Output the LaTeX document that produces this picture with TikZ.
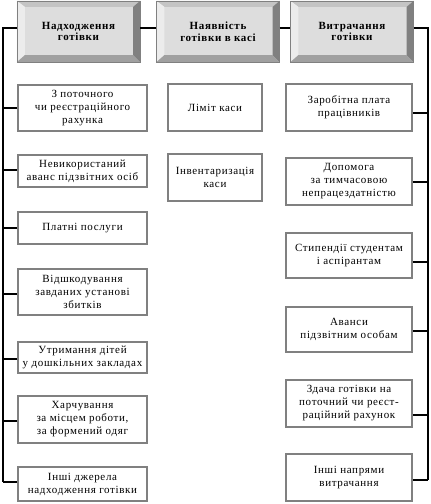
\documentclass[tikz,border=0pt]{standalone}
\usepackage{fontspec}
\setmainfont{Liberation Serif}[LetterSpace=6]
\definecolor{face}{RGB}{221,221,221}
\definecolor{bevtop}{RGB}{196,196,196}
\definecolor{bevleft}{RGB}{236,236,236}
\definecolor{bevright}{RGB}{128,128,128}
\definecolor{bevbot}{RGB}{160,160,160}
\definecolor{boxline}{RGB}{128,128,128}
\begin{document}
\begin{tikzpicture}[x=1pt,y=-1pt,
  sbox/.style={draw=boxline, line width=2.4pt, fill=white, inner sep=1pt, align=center,
    font=\fontsize{11}{13}\selectfont},
  lbox/.style={sbox, minimum width=128.6pt},
  mbox/.style={sbox, minimum width=93.6pt, minimum height=46.6pt},
  rbox/.style={sbox, minimum width=125.6pt},
  tbox/.style={fill=face, minimum width=123pt, minimum height=61pt, inner sep=0pt, align=center,
    font=\bfseries\fontsize{11}{11.5}\selectfont},
  conn/.style={draw=black, line width=1.3pt},
]
\useasboundingbox (0,0) rectangle (431,504);

% header boxes
\node[tbox] (t1) at (78.5,31.5) {Надходження\\готівки};
\node[tbox] (t2) at (218,31.5) {Наявність\\готівки в касі};
\node[tbox] (t3) at (352,31.5) {Витрачання\\готівки};
\foreach \n in {t1,t2,t3} {
  \fill[bevtop] (\n.north west) -- (\n.north east) -- ([shift={(-7,6)}]\n.north east) -- ([shift={(8,6)}]\n.north west) -- cycle;
  \fill[bevleft] (\n.north west) -- ([shift={(8,6)}]\n.north west) -- ([shift={(8,-7)}]\n.south west) -- (\n.south west) -- cycle;
  \fill[bevright] (\n.north east) -- ([shift={(-7,6)}]\n.north east) -- ([shift={(-7,-7)}]\n.south east) -- (\n.south east) -- cycle;
  \fill[bevbot] (\n.south west) -- ([shift={(8,-7)}]\n.south west) -- ([shift={(-7,-7)}]\n.south east) -- (\n.south east) -- cycle;
  \draw[gray, line width=0.6pt] (\n.north west) rectangle (\n.south east);
}

% left column
\node[lbox, minimum height=45.6pt] (l1) at (82.5,108) {З поточного\\чи реєстраційного\\рахунка};
\node[lbox, minimum height=31.6pt] (l2) at (82.5,171) {Невикористаний\\аванс підзвітних осіб};
\node[lbox, minimum height=31.6pt] (l3) at (82.5,228) {Платні послуги};
\node[lbox, minimum height=45.6pt] (l4) at (82.5,292) {Відшкодування\\завданих установі\\збитків};
\node[lbox, minimum height=30.6pt] (l5) at (82.5,357.5) {Утримання дітей\\у дошкільних закладах};
\node[lbox, minimum height=46.6pt] (l6) at (82.5,419.5) {Харчування\\за місцем роботи,\\за формений одяг};
\node[lbox, minimum height=33.6pt] (l7) at (82.5,484) {Інші джерела\\надходження готівки};

% middle column
\node[mbox] (m1) at (215,107.5) {Ліміт каси};
\node[mbox] (m2) at (215,177.5) {Інвентаризація\\каси};

% right column
\node[rbox, minimum height=46.6pt] (r1) at (349,107.5) {Заробітна плата\\працівників};
\node[rbox, minimum height=46.6pt] (r2) at (349,181.5) {Допомога\\за тимчасовою\\непрацездатністю};
\node[rbox, minimum height=44.6pt] (r3) at (349,255.5) {Стипендії студентам\\і аспірантам};
\node[rbox, minimum height=44.6pt] (r4) at (349,329.5) {Аванси\\підзвітним особам};
\node[rbox, minimum height=46.6pt] (r5) at (349,403.5) {Здача готівки на\\поточний чи реєст-\\раційний рахунок};
\node[rbox, minimum height=46.6pt] (r6) at (349,477.5) {Інші напрями\\витрачання};

% rails
\coordinate (railL) at (3,28);
\coordinate (railR) at (428,28);

% branch end points
\foreach \n/\s in {l1/0,l2/1,l3/0,l4/-2,l5/-1.5,l6/-1.5,l7/2} {
  \coordinate (\n c) at ([yshift=\s pt]\n.west);
}
\foreach \n/\s in {r1/-5.5,r2/-0.5,r3/-6.5,r4/-1.5,r5/-11.5,r6/-2.5} {
  \coordinate (\n c) at ([yshift=\s pt]\n.east);
}

% top connectors
\draw[conn] ([yshift=3.5pt]t1.west) -- (railL) -- (railL |- l7c);
\draw[conn] ([yshift=3.5pt]t1.east) -- ([yshift=3.5pt]t2.west);
\draw[conn] ([yshift=3.5pt]t2.east) -- ([yshift=3.5pt]t3.west);
\draw[conn] ([yshift=3.5pt]t3.east) -- (railR) -- (railR |- r6c);

% branch connectors
\foreach \n in {l1,l2,l3,l4,l5,l6,l7} {
  \draw[conn] (\n c) -- (railL |- \n c);
}
\foreach \n in {r1,r2,r3,r4,r5,r6} {
  \draw[conn] (\n c) -- (railR |- \n c);
}
\end{tikzpicture}
\end{document}
